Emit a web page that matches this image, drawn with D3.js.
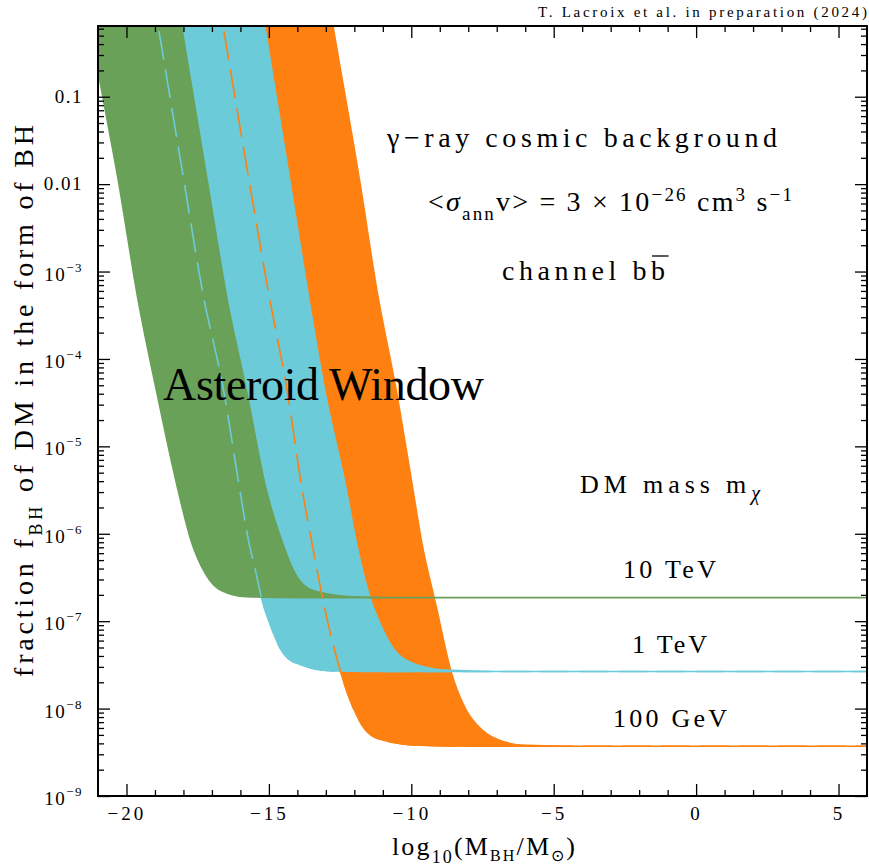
<!DOCTYPE html>
<html>
<head>
<meta charset="utf-8">
<script src="https://cdn.jsdelivr.net/npm/d3@7"></script>
<style>
  body { margin: 0; background: #fff; }
  svg text { font-family: "Liberation Serif", serif; fill: #000; }
</style>
</head>
<body>
<svg id="chart"></svg>
<script>
// curves: [log10(M_BH/Msun), log10(f_BH)]
const greenLeft = [
  [-21.43, 0.1], [-21.0, -0.70], [-20.27, -1.99], [-19.59, -3.33], [-18.95, -4.36],
  [-18.19, -5.50], [-17.74, -6.07], [-17.24, -6.45], [-16.67, -6.65], [-15.79, -6.72],
  [-14.0, -6.73], [6, -6.73]
];
const greenRight = [
  [-18.22, 0.1], [-18.07, -0.19], [-17.15, -1.99], [-16.46, -3.33], [-15.79, -4.36],
  [-15.09, -5.50], [-14.56, -6.07], [-14.09, -6.45], [-13.45, -6.65], [-12.06, -6.72],
  [-10.0, -6.73], [6, -6.73]
];
const cyanLeft = [
  [-19.04, 0.1], [-18.89, -0.19], [-17.97, -1.99], [-17.33, -3.23], [-16.59, -4.36],
  [-16.02, -5.50], [-15.72, -6.07], [-15.45, -6.45], [-15.27, -6.72], [-14.97, -7.02],
  [-14.62, -7.30], [-14.04, -7.48], [-12.76, -7.57], [-11.0, -7.575], [6, -7.575]
];
const cyanRight = [
  [-15.30, 0.1], [-15.15, -0.19], [-14.25, -1.99], [-13.59, -3.33], [-13.04, -4.36],
  [-12.28, -5.50], [-11.95, -6.07], [-11.46, -6.72], [-11.11, -7.02], [-10.66, -7.30],
  [-9.95, -7.48], [-8.77, -7.56], [-7.0, -7.575], [6, -7.575]
];
const orangeLeft = [
  [-16.76, 0.1], [-16.61, -0.19], [-15.68, -1.99], [-15.02, -3.23], [-14.36, -4.36],
  [-13.83, -5.50], [-13.51, -6.07], [-13.05, -6.84], [-12.49, -7.57], [-12.05, -7.98],
  [-11.59, -8.25], [-11.01, -8.36], [-9.71, -8.42], [-8.0, -8.43], [6, -8.43]
];
const orangeRight = [
  [-12.90, 0.1], [-12.75, -0.19], [-11.80, -1.99], [-11.21, -3.21], [-10.53, -4.36],
  [-9.94, -5.50], [-9.65, -6.07], [-9.12, -6.84], [-8.60, -7.58], [-8.10, -8.00],
  [-7.50, -8.25], [-6.75, -8.38], [-5.96, -8.42], [-4.0, -8.43], [6, -8.43]
];

const massLabels = ["10 TeV", "1 TeV", "100 GeV"];

const xMajorTicks = [-20, -15, -10, -5, 0, 5];
const xTickLabels = ["−20", "−15", "−10", "−5", "0", "5"];
const xMinorTicks = [-19, -18, -17, -16, -14, -13, -12, -11, -9, -8, -7, -6, -4, -3, -2, -1, 1, 2, 3, 4];
const yMajorTicks = [1e-9, 1e-8, 1e-7, 1e-6, 1e-5, 1e-4, 1e-3, 1e-2, 1e-1];
const yTickLabels = [["10", "−9"], ["10", "−8"], ["10", "−7"], ["10", "−6"], ["10", "−5"],
  ["10", "−4"], ["10", "−3"], ["0.01", ""], ["0.1", ""]];
const yMinorTicks = [];
for (let k = -9; k <= -1; k++) {
  for (let m = 2; m <= 9; m++) {
    const v = m * Math.pow(10, k);
    if (v < 0.64) yMinorTicks.push(v);
  }
}

const colors = { green: "#6aa159", cyan: "#6ccbd8", orange: "#fd8011" };

const W = 869, H = 867;
const margin = { top: 26, right: 2, bottom: 71, left: 98 };
const width = W - margin.left - margin.right,
  height = H - margin.top - margin.bottom;

const root = d3.select("#chart").attr("width", W).attr("height", H);
const svg = root.append("g").attr("transform", `translate(${margin.left},${margin.top})`);

const x = d3.scaleLinear().domain([-21, 6]).range([0, width]);
const y = d3.scaleLog().domain([1e-9, Math.pow(10, -0.191)]).range([height, 0]);

svg.append("clipPath").attr("id", "clip")
  .append("rect").attr("width", width).attr("height", height);

const line = d3.line()
  .x((d) => x(d[0]))
  .y((d) => y(Math.pow(10, d[1])))
  .curve(d3.curveMonotoneX);

function bandPath(left, right) {
  const back = line(right.slice().reverse());
  return line(left) + "L" + back.slice(1) + "Z";
}

const plot = svg.append("g").attr("clip-path", "url(#clip)");

// orange under cyan under green
[
  [orangeLeft, orangeRight, colors.orange],
  [cyanLeft, cyanRight, colors.cyan],
  [greenLeft, greenRight, colors.green],
].forEach(([l, r, c]) => {
  plot.append("path")
    .attr("d", bandPath(l, r))
    .attr("fill", c)
    .attr("stroke", c)
    .attr("stroke-width", 1.6)
    .attr("stroke-linejoin", "round");
});

// hidden lower edges shown dashed
[[cyanLeft, colors.cyan], [orangeLeft, colors.orange]].forEach(([l, c]) => {
  plot.append("path")
    .attr("d", line(l))
    .attr("fill", "none")
    .attr("stroke", c)
    .attr("stroke-width", 1.6)
    .attr("stroke-dasharray", "29,10")
    .attr("stroke-dashoffset", 8);
});

// axes, ticks inward
function styleAxis(g) {
  g.select(".domain").remove();
  g.selectAll(".tick line").attr("stroke", "#000").attr("stroke-width", 1.3);
}

svg.append("g").attr("transform", `translate(0,${height})`)
  .call(d3.axisBottom(x).tickValues(xMajorTicks).tickSize(-12).tickPadding(11)
    .tickFormat((d, i) => xTickLabels[i]))
  .call(styleAxis)
  .call((g) => g.selectAll("text").attr("font-size", 19)
    .attr("font-family", "Liberation Serif").attr("letter-spacing", 3));
svg.append("g").attr("transform", `translate(0,${height})`)
  .call(d3.axisBottom(x).tickValues(xMinorTicks).tickSize(-6).tickFormat(""))
  .call(styleAxis);
svg.append("g")
  .call(d3.axisTop(x).tickValues(xMajorTicks).tickSize(-12).tickFormat(""))
  .call(styleAxis);
svg.append("g")
  .call(d3.axisTop(x).tickValues(xMinorTicks).tickSize(-6).tickFormat(""))
  .call(styleAxis);

svg.append("g")
  .call(d3.axisLeft(y).tickValues(yMajorTicks).tickSize(-12).tickFormat(""))
  .call(styleAxis);
svg.append("g")
  .call(d3.axisLeft(y).tickValues(yMinorTicks).tickSize(-6).tickFormat(""))
  .call(styleAxis);
svg.append("g").attr("transform", `translate(${width},0)`)
  .call(d3.axisRight(y).tickValues(yMajorTicks).tickSize(-12).tickFormat(""))
  .call(styleAxis);
svg.append("g").attr("transform", `translate(${width},0)`)
  .call(d3.axisRight(y).tickValues(yMinorTicks).tickSize(-6).tickFormat(""))
  .call(styleAxis);

yMajorTicks.forEach((v, i) => {
  const [base, sup] = yTickLabels[i];
  const t = svg.append("text")
    .attr("x", -15)
    .attr("y", y(v) + (sup ? 9 : 6))
    .attr("text-anchor", "end")
    .attr("font-size", 19)
    .attr("letter-spacing", 1.5);
  t.append("tspan").text(base);
  if (sup) t.append("tspan").attr("dy", -9).attr("font-size", 13).text(sup);
});

svg.append("rect")
  .attr("width", width).attr("height", height)
  .attr("fill", "none").attr("stroke", "#000").attr("stroke-width", 2);

// text helpers
function rich(sel, parts) {
  let shift = 0;
  parts.forEach((p) => {
    const s = p.shift || 0;
    const ts = sel.append("tspan").text(p.t).attr("dy", s - shift);
    if (p.size) ts.attr("font-size", p.size);
    if (p.italic) ts.attr("font-style", "italic");
    shift = s;
  });
  return sel;
}

function fit(sel, w) {
  const node = sel.node();
  const n = node.textContent.length;
  const cur = node.getComputedTextLength();
  sel.attr("letter-spacing", (w - cur) / (n - 1));
}

function label(px, py, size, parts, w) {
  const t = root.append("text").attr("x", px).attr("y", py).attr("font-size", size);
  rich(t, parts);
  fit(t, w);
  return t;
}

label(538, 17, 15, [{ t: "T. Lacroix et al. in preparation (2024)" }], 329);

label(387, 147, 28, [{ t: "γ−ray cosmic background" }], 390);

label(428, 211, 28, [
  { t: "<" },
  { t: "σ", italic: true },
  { t: "ann", size: 19, shift: 9 },
  { t: "v> = 3 × 10" },
  { t: "−26", size: 19, shift: -10 },
  { t: " cm" },
  { t: "3", size: 19, shift: -10 },
  { t: " s" },
  { t: "−1", size: 19, shift: -10 },
], 364);

const chan = label(502, 280, 28, [{ t: "channel bb" }], 163);
{
  const node = chan.node();
  const ext = node.getExtentOfChar(node.textContent.length - 1);
  root.append("line")
    .attr("x1", ext.x + 1).attr("x2", ext.x + ext.width - 1)
    .attr("y1", 256).attr("y2", 256)
    .attr("stroke", "#000").attr("stroke-width", 1.3);
}

root.append("text")
  .attr("x", 163).attr("y", 400)
  .attr("font-size", 46)
  .text("Asteroid Window")
  .call((t) => fit(t, 321));

label(580, 493, 26, [
  { t: "DM mass m" },
  { t: "χ", size: 20, italic: true, shift: 7 },
], 180);

const massPos = [[623, 578, 93], [632, 653, 75], [613, 727, 114]];
massLabels.forEach((m, i) => {
  const [px, py, w] = massPos[i];
  label(px, py, 26, [{ t: m }], w);
});

label(392, 855, 26, [
  { t: "log" },
  { t: "10", size: 18, shift: 8 },
  { t: "(M" },
  { t: "BH", size: 16, shift: 6 },
  { t: "/M" },
  { t: "⊙", size: 16, shift: 6 },
  { t: ")" },
], 183);

{
  const t = root.append("text")
    .attr("transform", "translate(33,677) rotate(-90)")
    .attr("font-size", 28);
  rich(t, [
    { t: "fraction f" },
    { t: "BH", size: 18, shift: 9 },
    { t: " of DM in the form of BH" },
  ]);
  fit(t, 552);
}
</script>
</body>
</html>
